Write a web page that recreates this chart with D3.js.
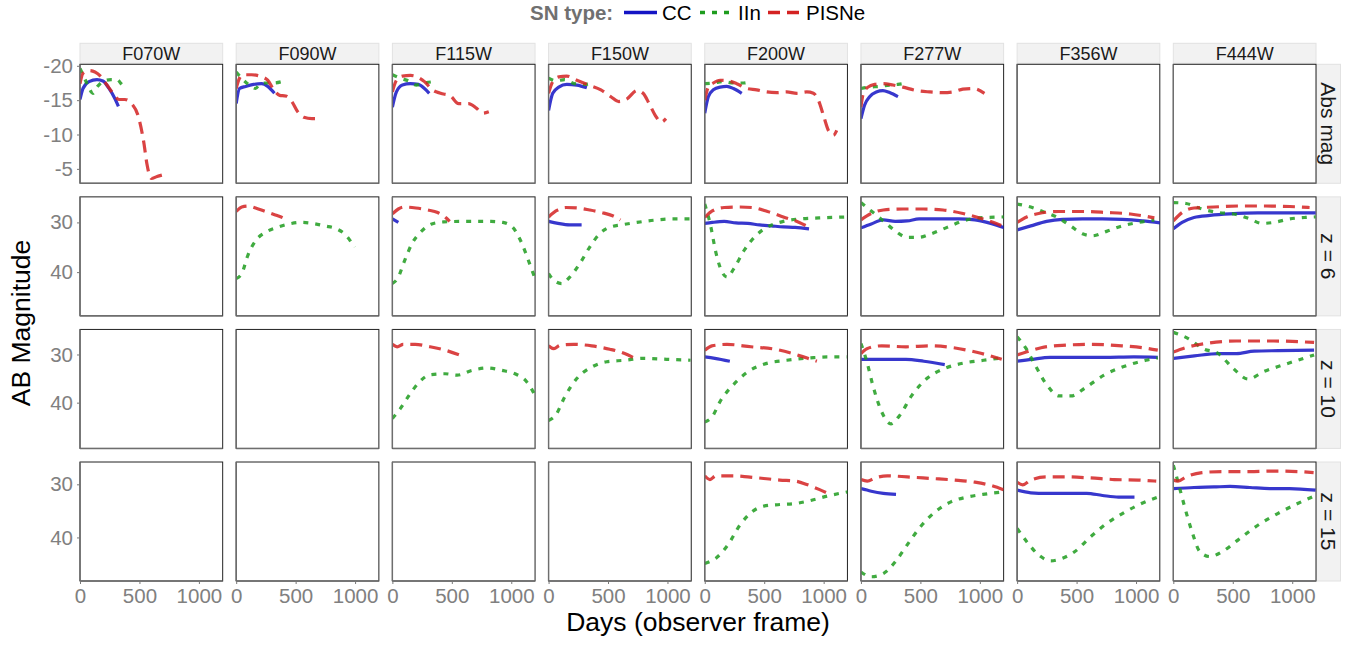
<!DOCTYPE html>
<html><head><meta charset="utf-8">
<script src="https://cdn.jsdelivr.net/npm/d3@7"></script>
<style>
body{margin:0;background:#fff;}
text{font-family:"Liberation Sans",Arial,Helvetica,sans-serif;}
</style>
</head><body>
<svg id="chart" width="1356" height="646"></svg>
<script>
// ---------- categories / ticks ----------
const filters = ["F070W","F090W","F115W","F150W","F200W","F277W","F356W","F444W"];
const rowLabels = ["Abs mag","z = 6","z = 10","z = 15"];
const snTypes = ["CC","IIn","PISNe"];
const xTicks = [0,500,1000];
const absTicks = [-20,-15,-10,-5];
const abTicks = [30,40];
const xDomain = [0,1200];
const rowDomains = [[-20.22,-2.9],[24.86,48.8],[24.8,49.5],[25.8,48.2]];

// ---------- data: [days, magnitude] ----------
const absCC = {
  F070W:[[0,-15.1],[25,-16.7],[76,-17.7],[143,-18.0],[193,-17.8],[244,-16.7],[294,-15.2],[323,-14.1]],
  F090W:[[0,-14.5],[28,-16.7],[79,-17.0],[146,-17.3],[214,-17.4],[265,-17.0],[322,-16.0]],
  F115W:[[0,-14.0],[34,-16.2],[84,-17.2],[152,-17.4],[219,-17.3],[270,-16.7],[310,-16.0]],
  F150W:[[0,-13.5],[35,-16.0],[86,-16.9],[153,-17.3],[238,-17.2],[322,-16.8]],
  F200W:[[0,-13.1],[30,-15.5],[72,-16.5],[129,-16.9],[185,-17.0],[241,-16.7],[311,-16.0]],
  F277W:[[0,-12.3],[31,-14.3],[73,-15.5],[129,-16.2],[185,-16.4],[241,-16.1],[311,-15.5]]
};
const absIIn = {
  F070W:[[0,-19.6],[25,-18.7],[59,-17.4],[109,-16.0],[143,-16.9],[193,-17.7],[261,-18.0],[311,-18.0],[345,-17.4],[378,-16.7]],
  F090W:[[0,-19.1],[45,-18.2],[96,-17.4],[163,-16.7],[197,-17.3],[248,-17.5],[316,-17.5],[383,-17.7]],
  F115W:[[0,-18.7],[67,-18.2],[135,-17.8],[202,-17.2],[270,-17.5],[354,-17.7]],
  F150W:[[0,-18.2],[67,-17.8],[135,-18.0],[219,-17.4],[304,-17.3],[371,-17.5]],
  F200W:[[0,-17.4],[72,-17.5],[157,-17.7],[241,-17.5],[325,-17.5],[381,-17.7]],
  F277W:[[0,-16.7],[73,-16.9],[157,-17.0],[241,-17.2],[311,-17.3],[381,-17.5]]
};
const absPISNe = {
  F070W:[[0,-17.4],[25,-18.9],[76,-19.3],[126,-19.1],[177,-18.4],[227,-17.2],[278,-16.0],[328,-15.1],[378,-15.1],[429,-14.6],[496,-12.3],[538,-8.7],[563,-5.7],[600,-3.6],[648,-3.9],[690,-4.1]],
  F090W:[[0,-16.7],[28,-18.2],[62,-18.7],[130,-18.7],[197,-18.5],[265,-17.9],[316,-16.5],[366,-15.7],[416,-15.6],[468,-14.8],[518,-13.3],[569,-12.5],[637,-12.3],[687,-12.3]],
  F115W:[[0,-16.2],[34,-17.9],[84,-18.5],[152,-18.6],[219,-18.3],[270,-17.7],[337,-16.5],[405,-16.0],[489,-15.6],[557,-14.5],[641,-14.5],[709,-13.8],[760,-13.1],[811,-13.3]],
  F150W:[[0,-16.0],[35,-17.7],[86,-18.4],[153,-18.5],[238,-17.9],[339,-17.2],[440,-16.5],[524,-15.5],[591,-14.8],[660,-15.2],[744,-16.4],[795,-16.0],[846,-14.5],[897,-12.8],[947,-11.8],[988,-12.3]],
  F200W:[[0,-15.0],[30,-16.9],[72,-17.5],[129,-17.9],[199,-17.8],[269,-17.4],[353,-16.7],[437,-16.5],[521,-16.2],[605,-16.1],[689,-16.2],[774,-16.0],[858,-16.2],[914,-16.0],[956,-15.0],[998,-12.8],[1040,-10.6],[1082,-9.9],[1110,-10.6]],
  F277W:[[0,-14.0],[20,-16.0],[59,-16.9],[115,-17.3],[185,-17.4],[269,-17.2],[353,-16.9],[465,-16.4],[577,-16.2],[689,-16.1],[773,-16.2],[857,-16.6],[941,-16.7],[1039,-16.0]]
};
const z6CC = {
  F115W:[[0,29.3],[50,30.0]],
  F150W:[[0,29.8],[79,30.2],[178,30.5],[278,30.5]],
  F200W:[[0,30.2],[63,30.0],[163,29.8],[262,30.1],[362,30.2],[461,30.5],[561,30.7],[661,30.9],[760,31.0],[877,31.3]],
  F277W:[[0,31.1],[87,30.3],[188,29.5],[288,29.8],[389,29.7],[489,29.3],[656,29.3],[824,29.3],[959,29.5],[1092,30.2],[1209,31.1]],
  F356W:[[0,31.5],[115,30.7],[248,29.8],[382,29.4],[550,29.3],[718,29.3],[885,29.4],[1053,29.7],[1204,30.1]],
  F444W:[[0,31.3],[74,30.0],[174,29.0],[309,28.6],[476,28.3],[711,28.1],[945,28.1],[1196,28.1]]
};
const z6IIn = {
  F090W:[[0,41.3],[47,40.3],[97,36.7],[163,33.7],[246,32.0],[345,31.0],[445,30.3],[545,30.0],[645,30.2],[745,30.7],[845,31.3],[928,32.7],[995,35.0]],
  F115W:[[0,42.3],[50,41.0],[98,38.0],[164,34.3],[248,31.7],[331,30.3],[431,29.9],[564,29.8],[697,29.8],[830,29.8],[929,30.0],[1012,31.0],[1079,33.7],[1145,37.7],[1195,41.0]],
  F150W:[[0,40.3],[46,41.7],[112,42.3],[178,41.0],[262,38.3],[345,35.0],[428,32.3],[511,31.0],[611,30.5],[743,30.0],[910,29.5],[1043,29.3],[1192,29.3]],
  F200W:[[0,26.3],[46,30.3],[96,36.3],[146,40.0],[189,41.0],[245,39.3],[329,35.7],[428,32.7],[528,30.9],[661,29.8],[795,29.3],[961,29.1],[1193,28.9]],
  F277W:[[0,26.0],[87,27.7],[188,29.7],[288,31.7],[389,33.0],[489,33.0],[589,32.3],[724,31.0],[858,29.7],[992,29.1],[1209,28.9]],
  F356W:[[0,26.3],[115,26.9],[215,27.8],[348,29.1],[449,30.7],[550,32.3],[633,32.7],[752,31.8],[885,30.7],[1019,30.0],[1154,29.5]],
  F444W:[[0,26.0],[107,26.2],[241,27.3],[375,28.0],[509,28.3],[644,29.3],[745,30.2],[845,30.0],[979,29.3],[1113,29.0],[1196,28.9]]
};
const z6PISNe = {
  F090W:[[0,27.8],[47,26.9],[97,26.7],[163,27.1],[246,27.8],[329,28.5],[396,29.1],[439,29.7]],
  F115W:[[0,28.3],[50,27.3],[98,26.9],[198,27.1],[298,27.5],[381,28.0],[448,29.0],[482,29.8]],
  F150W:[[0,28.9],[62,27.7],[146,27.0],[245,27.1],[345,27.5],[445,28.0],[544,28.7],[604,29.5]],
  F200W:[[0,29.0],[63,27.7],[163,27.0],[296,26.9],[395,27.0],[528,27.8],[661,28.9],[795,30.0],[887,31.1]],
  F277W:[[0,29.5],[87,28.2],[188,27.5],[355,27.3],[522,27.3],[690,27.5],[858,28.2],[1025,29.3],[1209,30.9]],
  F356W:[[0,30.0],[81,28.9],[181,28.2],[348,27.8],[550,27.8],[752,28.0],[953,28.3],[1154,29.1]],
  F444W:[[0,29.7],[74,28.0],[174,27.1],[342,26.9],[543,26.7],[778,26.7],[979,26.8],[1146,27.0]]
};
const z10CC = {
  F200W:[[0,30.5],[85,30.8],[211,31.4]],
  F277W:[[0,31.0],[176,31.0],[378,31.0],[529,31.4],[705,32.1]],
  F356W:[[0,31.4],[126,31.0],[277,30.6],[478,30.6],[730,30.6],[982,30.5],[1183,30.6]],
  F444W:[[0,30.8],[177,30.3],[378,29.8],[529,29.8],[680,29.3],[882,29.2],[1184,29.1]]
};
const z10IIn = {
  F115W:[[0,43.3],[65,41.3],[140,38.5],[216,36.0],[317,34.2],[443,34.0],[544,34.3],[670,33.3],[796,32.8],[922,33.3],[1031,34.0],[1131,35.7],[1207,38.8]],
  F150W:[[0,43.7],[60,42.6],[136,38.8],[237,35.0],[363,32.6],[489,31.5],[640,31.2],[791,30.8],[993,31.0],[1194,31.2]],
  F200W:[[0,44.0],[60,43.0],[135,39.5],[236,36.4],[362,33.6],[514,31.9],[690,31.2],[892,30.7],[1043,30.5],[1194,30.5]],
  F277W:[[0,27.7],[50,31.5],[100,36.4],[176,42.0],[252,44.4],[327,42.6],[428,38.5],[554,35.0],[705,32.9],[881,31.7],[1032,31.2],[1184,30.7]],
  F356W:[[0,26.3],[76,28.8],[151,32.2],[252,36.4],[353,38.6],[453,38.6],[579,36.8],[730,34.3],[932,32.2],[1083,31.2],[1183,30.7]],
  F444W:[[0,25.4],[126,26.7],[252,28.8],[378,29.8],[504,32.9],[630,35.1],[756,33.6],[933,32.1],[1184,30.1]]
};
const z10PISNe = {
  F115W:[[0,27.9],[40,28.4],[91,27.9],[191,27.9],[317,28.4],[443,29.1],[584,30.3]],
  F150W:[[0,28.2],[45,28.8],[95,28.1],[211,27.9],[363,28.2],[514,28.9],[640,29.8],[716,30.7]],
  F200W:[[0,29.1],[60,28.2],[186,27.9],[388,28.4],[590,28.9],[741,29.8],[867,30.8],[943,31.4]],
  F277W:[[0,29.8],[50,28.8],[176,28.2],[378,28.4],[579,28.2],[780,28.6],[982,29.6],[1184,31.0]],
  F356W:[[0,30.1],[76,29.5],[202,28.6],[378,28.1],[630,27.9],[882,28.2],[1058,28.6],[1183,29.1]],
  F444W:[[0,29.5],[101,28.6],[277,27.7],[529,27.2],[832,27.2],[1184,27.5]]
};
const z15CC = {
  F277W:[[0,30.8],[87,31.3],[188,31.7],[295,31.9]],
  F356W:[[0,31.1],[115,31.6],[248,31.7],[416,31.7],[584,31.7],[718,32.1],[852,32.4],[987,32.4]],
  F444W:[[0,30.8],[174,30.6],[342,30.5],[476,30.4],[644,30.6],[811,30.8],[979,30.8],[1196,31.1]]
};
const z15IIn = {
  F200W:[[0,44.9],[94,43.9],[195,41.4],[295,37.7],[396,35.2],[496,34.1],[631,33.8],[765,33.6],[899,33.0],[1033,32.2],[1206,31.4]],
  F277W:[[0,46.5],[87,47.4],[188,46.8],[288,44.6],[389,41.4],[489,38.3],[623,35.2],[757,33.3],[892,32.4],[1025,31.9],[1209,31.4]],
  F356W:[[0,38.3],[81,40.8],[181,43.3],[282,44.4],[382,43.9],[483,42.7],[617,39.9],[752,37.4],[885,35.5],[1019,33.9],[1187,32.4]],
  F444W:[[0,26.4],[40,29.6],[91,33.9],[157,38.9],[224,42.7],[308,43.6],[409,42.7],[543,40.5],[711,37.7],[878,35.5],[1046,33.6],[1196,32.1]]
};
const z15PISNe = {
  F200W:[[0,28.4],[44,29.1],[94,28.4],[229,28.4],[362,28.6],[496,28.9],[631,29.2],[765,29.4],[866,30.1],[966,31.0],[1027,31.6]],
  F277W:[[0,29.1],[53,29.4],[120,28.8],[221,28.4],[389,28.6],[590,28.9],[791,29.2],[959,29.6],[1092,30.2],[1209,31.1]],
  F356W:[[0,29.6],[47,30.1],[115,29.2],[248,28.6],[416,28.6],[617,28.8],[818,29.1],[1019,29.2],[1170,29.4]],
  F444W:[[0,29.2],[40,29.4],[107,28.6],[241,27.8],[409,27.6],[644,27.6],[845,27.5],[1046,27.6],[1180,27.8]]
};

const rowData = [
  {CC:absCC, IIn:absIIn, PISNe:absPISNe},
  {CC:z6CC, IIn:z6IIn, PISNe:z6PISNe},
  {CC:z10CC, IIn:z10IIn, PISNe:z10PISNe},
  {CC:z15CC, IIn:z15IIn, PISNe:z15PISNe}
];

// ---------- styles ----------
const style = {
  CC:{color:"#1414c4", dash:null},
  IIn:{color:"#1e9c1e", dash:"5,7"},
  PISNe:{color:"#d42222", dash:"12,7"}
};
const drawOrder = ["CC","IIn","PISNe"];

const svg = d3.select("#chart");
const colBand = d3.scaleBand().domain(filters).range([80,1316]).paddingInner(0.0865);
const rowBand = d3.scaleBand().domain(rowLabels).range([64.3,581]).paddingInner(0.1024);
const bw = colBand.bandwidth(), bh = rowBand.bandwidth();

// strips (top)
filters.forEach(f=>{
  const x0 = colBand(f);
  svg.append("rect").attr("x",x0).attr("y",43.3).attr("width",bw).attr("height",20)
    .attr("fill","#f2f2f2").attr("stroke","#e2e2e2").attr("stroke-width",1);
  svg.append("text").attr("x",x0+bw/2).attr("y",59.5).attr("text-anchor","middle")
    .attr("font-size","18px").attr("fill","#1a1a1a").text(f);
});
// strips (right)
rowLabels.forEach(r=>{
  const y0 = rowBand(r);
  svg.append("rect").attr("x",1316.5).attr("y",y0).attr("width",24).attr("height",bh)
    .attr("fill","#f2f2f2").attr("stroke","#e2e2e2").attr("stroke-width",1);
  svg.append("text").attr("transform",`translate(1321,${y0+bh/2}) rotate(90)`)
    .attr("text-anchor","middle").attr("font-size","21px").attr("fill","#1a1a1a").text(r);
});

const defs = svg.append("defs");
rowLabels.forEach((r,ri)=>{
  const y0 = rowBand(r);
  const y = d3.scaleLinear().domain(rowDomains[ri]).range([y0, y0+bh]);
  filters.forEach((f,ci)=>{
    const x0 = colBand(f);
    const x = d3.scaleLinear().domain(xDomain).range([x0, x0+bw]);
    const id = `clip${ri}_${ci}`;
    defs.append("clipPath").attr("id",id).append("rect")
      .attr("x",x0).attr("y",y0).attr("width",bw).attr("height",bh);
    const g = svg.append("g");
    g.append("rect").attr("x",x0).attr("y",y0).attr("width",bw).attr("height",bh)
      .attr("fill","#fff").attr("stroke","#222").attr("stroke-width",1);
    const lg = g.append("g").attr("clip-path",`url(#${id})`);
    const line = d3.line().x(d=>x(d[0])).y(d=>y(d[1])).curve(d3.curveMonotoneX);
    drawOrder.forEach(t=>{
      const data = rowData[ri][t][f];
      if(!data) return;
      const p = lg.append("path").datum(data).attr("d",line)
        .attr("fill","none").attr("stroke",style[t].color).attr("stroke-width",3.2)
        .attr("stroke-opacity",0.85).attr("stroke-linejoin","round");
      if(style[t].dash) p.attr("stroke-dasharray",style[t].dash);
    });
    // axis lines (left & bottom, grey)
    g.append("line").attr("x1",x0).attr("x2",x0).attr("y1",y0).attr("y2",y0+bh)
      .attr("stroke","#6e6e6e").attr("stroke-width",1.4);
    g.append("line").attr("x1",x0).attr("x2",x0+bw).attr("y1",y0+bh).attr("y2",y0+bh)
      .attr("stroke","#6e6e6e").attr("stroke-width",1.4);
    if(ci===0){
      const ax = svg.append("g").attr("transform",`translate(${x0},0)`)
        .call(d3.axisLeft(y).tickValues(ri===0?absTicks:abTicks).tickSize(3).tickPadding(4)
          .tickFormat(d=>String(d)));
      ax.select(".domain").remove();
      ax.selectAll("line").attr("stroke","#777");
      ax.selectAll("text").attr("font-size","20.5px").attr("fill","#808080")
        .attr("font-family","'Liberation Sans',Arial,sans-serif");
    }
    if(ri===rowLabels.length-1){
      const ax = svg.append("g").attr("transform",`translate(0,${y0+bh})`)
        .call(d3.axisBottom(x).tickValues(xTicks).tickSize(3).tickPadding(4)
          .tickFormat(d=>String(d)));
      ax.select(".domain").remove();
      ax.selectAll("line").attr("stroke","#777");
      ax.selectAll("text").attr("font-size","20.5px").attr("fill","#808080")
        .attr("font-family","'Liberation Sans',Arial,sans-serif");
    }
  });
});

// axis titles
svg.append("text").attr("x",698).attr("y",631).attr("text-anchor","middle")
  .attr("font-size","26.5px").attr("fill","#000").text("Days (observer frame)");
svg.append("text").attr("transform","translate(30,323) rotate(-90)").attr("text-anchor","middle")
  .attr("font-size","26.5px").attr("fill","#000").text("AB Magnitude");

// legend
const leg = svg.append("g");
leg.append("text").attr("x",530).attr("y",20).attr("font-size","20.5px").attr("font-weight","bold")
  .attr("fill","#707070").text("SN type:");
const legItems = [{t:"CC",x:624},{t:"IIn",x:700},{t:"PISNe",x:768}];
legItems.forEach(it=>{
  const l = leg.append("line").attr("x1",it.x).attr("x2",it.x+33).attr("y1",12.5).attr("y2",12.5)
    .attr("stroke",style[it.t].color).attr("stroke-width",3.6);
  if(style[it.t].dash) l.attr("stroke-dasharray",style[it.t].dash);
  leg.append("text").attr("x",it.x+38).attr("y",20).attr("font-size","20.5px").attr("fill","#000").text(it.t);
});
</script>
</body></html>
